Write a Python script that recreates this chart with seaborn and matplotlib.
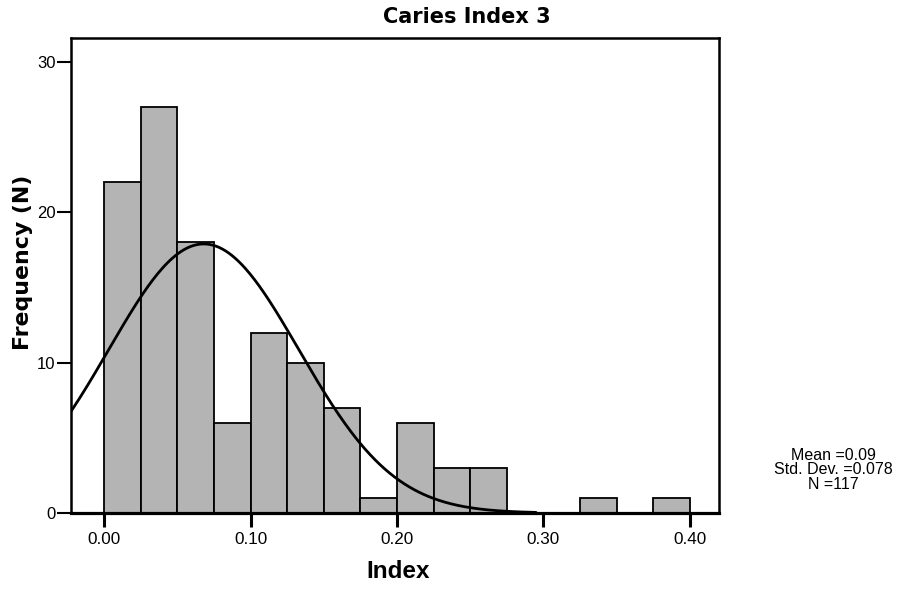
#!/usr/bin/env python
# -*- coding: utf-8 -*-

import numpy as np
import pandas as pd
import seaborn as sns
from matplotlib import pyplot as plt

# Histogram bins (left edge of each bin) and their counts
bin_left = [0.000, 0.025, 0.050, 0.075, 0.100, 0.125, 0.150, 0.175,
            0.200, 0.225, 0.250, 0.275, 0.300, 0.325, 0.350, 0.375]
counts = [22, 27, 18, 6, 12, 10, 7, 1, 6, 3, 3, 0, 0, 1, 0, 1]
bin_width = 0.025

# Fitted normal curve as drawn (centre, spread and peak)
curve_centre = 0.068
curve_spread = 0.065
curve_peak = 17.9
curve_end = 0.295

x_ticks = [0.00, 0.10, 0.20, 0.30, 0.40]
x_tick_labels = ['0.00', '0.10', '0.20', '0.30', '0.40']
y_ticks = [0, 10, 20, 30]

stats_text = 'Mean =0.09\nStd. Dev. =0.078\nN =117'

sns.set_style('ticks')
plt.rcParams['font.family'] = ['Liberation Sans', 'DejaVu Sans']
plt.rcParams['text.color'] = 'black'

fig = plt.figure(figsize=(9, 5.89), dpi=100)
ax = fig.add_axes([71 / 900, 76 / 589, 648 / 900, 475 / 589])

df = pd.DataFrame({'index': [b + bin_width / 2 for b in bin_left], 'n': counts})
edges = bin_left + [bin_left[-1] + bin_width]
sns.histplot(data=df, x='index', weights='n', bins=edges, ax=ax,
             color='#b4b4b4', alpha=1, edgecolor='black', linewidth=1.3)

xs = np.linspace(-0.03, curve_end, 300)
ys = curve_peak * np.exp(-0.5 * ((xs - curve_centre) / curve_spread) ** 2)
sns.lineplot(x=xs, y=ys, ax=ax, color='black', linewidth=2, sort=False)

ax.set_xlim(-0.0227, 0.420)
ax.set_ylim(0, 31.6)
ax.set_xticks(x_ticks)
ax.set_xticklabels(x_tick_labels)
ax.set_yticks(y_ticks)
ax.tick_params(axis='x', length=10, width=2.2, pad=4, labelsize=12.3, colors='black')
ax.tick_params(axis='y', length=10, width=1.5, pad=1, labelsize=12, colors='black')
for side in ['left', 'right', 'top', 'bottom']:
    ax.spines[side].set_visible(True)
    ax.spines[side].set_color('black')
    ax.spines[side].set_linewidth(1.8)
ax.spines['bottom'].set_linewidth(2.3)
ax.set_xlabel('')
ax.set_ylabel('')

fig.text(467 / 900, 1 - 17 / 589, 'Caries Index 3', ha='center', va='center',
         fontsize=15, fontweight='bold', family='DejaVu Sans', color='black')
fig.text(398 / 900, 1 - 572 / 589, 'Index', ha='center', va='center',
         fontsize=17.5, fontweight='bold', family='Liberation Sans', color='black')
fig.text(23 / 900, 1 - 262 / 589, 'Frequency (N)', ha='center', va='center',
         rotation=90, fontsize=15.8, fontweight='bold', family='DejaVu Sans',
         color='black')
fig.text(833 / 900, 1 - 470 / 589, stats_text, ha='center', va='center',
         fontsize=11.5, linespacing=0.92, family='Liberation Sans', color='black')

plt.savefig('out.png', dpi=100)
